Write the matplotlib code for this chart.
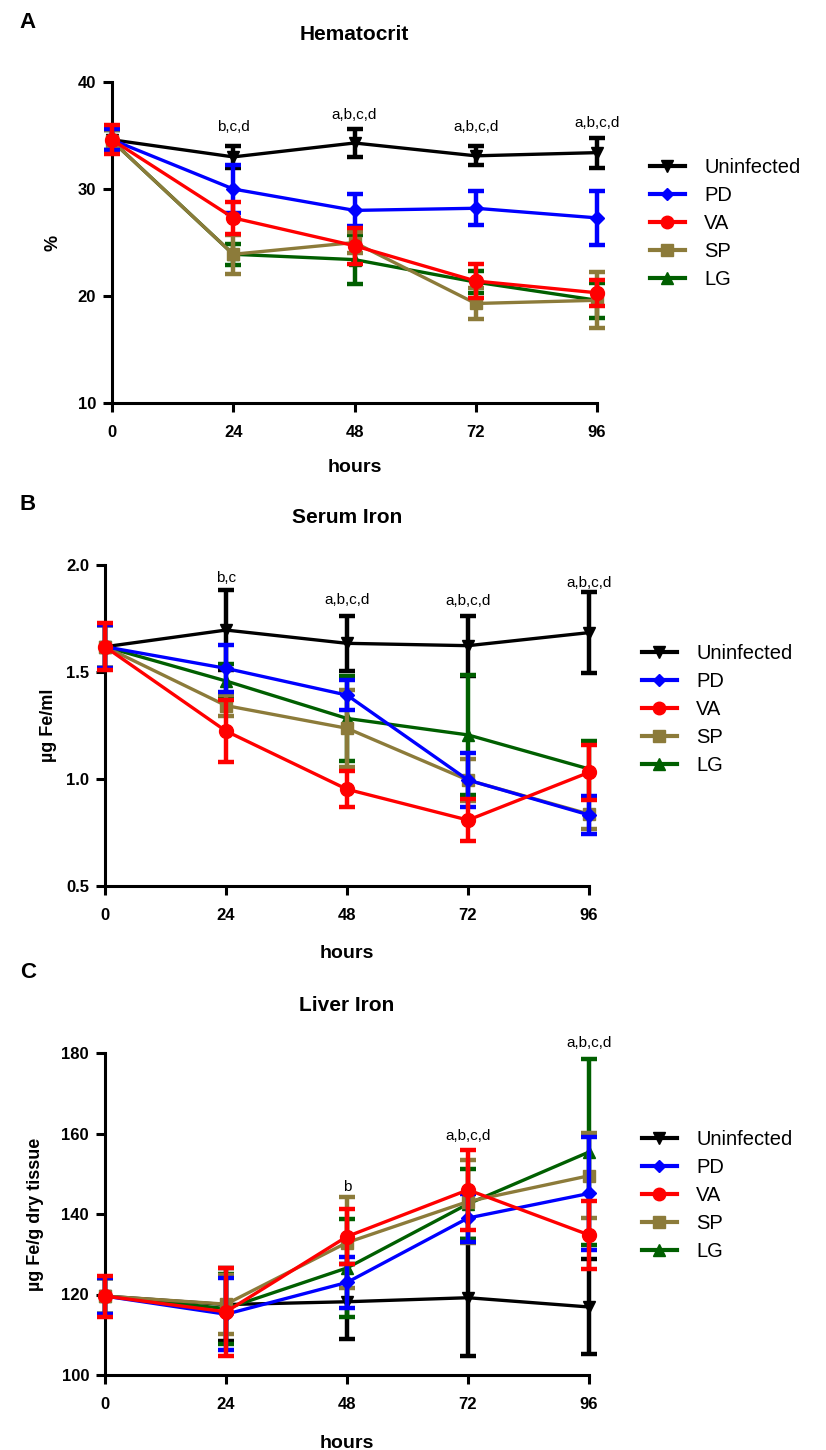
import matplotlib
matplotlib.use("Agg")
import matplotlib.pyplot as plt
from matplotlib.lines import Line2D

plt.rcParams['font.family'] = ['Liberation Sans', 'DejaVu Sans']

hours = [0, 24, 48, 72, 96]
groups = ["Uninfected", "PD", "VA", "SP", "LG"]
colors = ["#000000", "#0000FF", "#FF0000", "#8C7B3A", "#005F00"]
markers = ["v", "D", "o", "s", "^"]
msizes = [9, 7, 10, 9, 9]

# Panel A: Hematocrit (%)
hct_uninf = [34.6, 33.0, 34.3, 33.1, 33.4]
hct_pd = [34.6, 30.0, 28.0, 28.2, 27.3]
hct_va = [34.6, 27.3, 24.7, 21.4, 20.3]
hct_sp = [34.5, 23.9, 25.0, 19.3, 19.6]
hct_lg = [34.5, 23.9, 23.4, 21.3, 19.6]
hct_uninf_err = [1.0, 1.0, 1.3, 0.9, 1.4]
hct_pd_err = [1.0, 2.2, 1.5, 1.6, 2.5]
hct_va_err = [1.35, 1.5, 1.7, 1.6, 1.2]
hct_sp_err = [1.0, 1.8, 1.0, 1.45, 2.6]
hct_lg_err = [1.0, 1.0, 2.3, 1.0, 1.65]

# Panel B: Serum iron (ug Fe/ml)
ser_uninf = [1.618, 1.696, 1.634, 1.623, 1.684]
ser_pd = [1.618, 1.517, 1.392, 0.995, 0.832]
ser_va = [1.618, 1.224, 0.952, 0.808, 1.031]
ser_sp = [1.618, 1.343, 1.237, 0.995, 0.836]
ser_lg = [1.618, 1.458, 1.283, 1.206, 1.047]
ser_uninf_err = [0.10, 0.185, 0.13, 0.14, 0.19]
ser_pd_err = [0.10, 0.11, 0.07, 0.125, 0.087]
ser_va_err = [0.11, 0.145, 0.085, 0.097, 0.127]
ser_sp_err = [0.10, 0.05, 0.18, 0.10, 0.07]
ser_lg_err = [0.10, 0.08, 0.20, 0.28, 0.13]

# Panel C: Liver iron (ug Fe/g dry tissue)
liv_uninf = [119.6, 117.5, 118.2, 119.2, 116.9]
liv_pd = [119.6, 115.1, 123.0, 139.0, 145.1]
liv_va = [119.6, 115.7, 134.4, 146.0, 134.8]
liv_sp = [119.6, 117.6, 132.9, 143.1, 149.5]
liv_lg = [119.6, 116.5, 126.6, 142.5, 155.4]
liv_uninf_err = [4.5, 9.0, 9.3, 14.5, 11.8]
liv_pd_err = [4.5, 9.0, 6.4, 6.0, 14.0]
liv_va_err = [5.1, 11.0, 6.8, 10.0, 8.4]
liv_sp_err = [4.5, 7.3, 11.2, 10.2, 10.6]
liv_lg_err = [4.5, 8.7, 12.2, 8.6, 23.0]

# significance annotations
hct_sig = ["", "b,c,d", "a,b,c,d", "a,b,c,d", "a,b,c,d"]
hct_sig_y = [None, 35.8, 36.9, 35.8, 36.2]
ser_sig = ["", "b,c", "a,b,c,d", "a,b,c,d", "a,b,c,d"]
ser_sig_y = [None, 1.94, 1.836, 1.83, 1.916]
liv_sig = ["", "", "b", "a,b,c,d", "a,b,c,d"]
liv_sig_y = [None, None, 146.8, 159.3, 182.4]

W, H = 826, 1450
fig = plt.figure(figsize=(W / 100, H / 100), dpi=100)

def px_axes(x0, x1, ytop, ybot):
    return fig.add_axes([x0 / W, 1 - ybot / H, (x1 - x0) / W, (ybot - ytop) / H])

axA = px_axes(112, 597, 82, 403)
axB = px_axes(105, 589, 565, 886)
axC = px_axes(105, 589, 1053, 1375)

draw_order = [0, 4, 3, 1, 2]

def panel(ax, means, errs, ylim, yticks, yticklabels, title, ylabel, sig, sig_y, ylab_x, leg_xy, xlpad):
    for z, i in enumerate(draw_order):
        ax.errorbar(hours, means[i], yerr=errs[i], color=colors[i], marker=markers[i],
                    markersize=msizes[i], linewidth=2.4, elinewidth=3.2, capsize=6,
                    capthick=3.2, clip_on=False, zorder=3 + z)
    ax.set_xlim(0, 96)
    ax.set_ylim(*ylim)
    ax.set_xticks(hours)
    ax.set_xticklabels([str(h) for h in hours], fontweight='bold', fontsize=12)
    ax.set_yticks(yticks)
    ax.set_yticklabels(yticklabels, fontweight='bold', fontsize=12)
    for s in ['top', 'right']:
        ax.spines[s].set_visible(False)
    for s in ['left', 'bottom']:
        ax.spines[s].set_linewidth(2.2)
    ax.tick_params(width=2.2, length=6.5, direction='out')
    ax.tick_params(axis='x', pad=9)
    ax.tick_params(axis='y', pad=5)
    ax.set_xlabel("hours", fontweight='bold', fontsize=14, labelpad=xlpad)
    ax.set_ylabel(ylabel, fontweight='bold', fontsize=13)
    ax.yaxis.set_label_coords(ylab_x, 0.5)
    ax.set_title(title, fontweight='bold', fontsize=15, pad=30)
    for h, t, y in zip(hours, sig, sig_y):
        if t:
            ax.text(h, y, t, ha='center', va='center', fontsize=11, clip_on=False)
    handles = [Line2D([0], [0], color=colors[i], marker=markers[i], markersize=msizes[i] - 1,
                      linewidth=3) for i in range(5)]
    ax.legend(handles, groups, loc='upper left', bbox_to_anchor=leg_xy, frameon=False,
              fontsize=14.5, handlelength=1.75, labelspacing=0.45, handletextpad=0.95,
              borderpad=0, borderaxespad=0)

panel(axA, [hct_uninf, hct_pd, hct_va, hct_sp, hct_lg],
      [hct_uninf_err, hct_pd_err, hct_va_err, hct_sp_err, hct_lg_err],
      (10, 40), [10, 20, 30, 40], ["10", "20", "30", "40"], "Hematocrit", "%",
      hct_sig, hct_sig_y, -0.105, (1.109, 0.763), 14)
panel(axB, [ser_uninf, ser_pd, ser_va, ser_sp, ser_lg],
      [ser_uninf_err, ser_pd_err, ser_va_err, ser_sp_err, ser_lg_err],
      (0.5, 2.0), [0.5, 1.0, 1.5, 2.0], ["0.5", "1.0", "1.5", "2.0"], "Serum Iron",
      "µg Fe/ml", ser_sig, ser_sig_y, -0.10, (1.109, 0.754), 16)
panel(axC, [liv_uninf, liv_pd, liv_va, liv_sp, liv_lg],
      [liv_uninf_err, liv_pd_err, liv_va_err, liv_sp_err, liv_lg_err],
      (100, 180), [100, 120, 140, 160, 180], ["100", "120", "140", "160", "180"], "Liver Iron",
      "µg Fe/g dry tissue", liv_sig, liv_sig_y, -0.126, (1.109, 0.761), 17)

for lab, y in [("A", 22), ("B", 505), ("C", 972)]:
    fig.text(28 / W, 1 - y / H, lab, fontsize=16, fontweight='bold', ha='center', va='center')

fig.savefig("out.png", dpi=100)
